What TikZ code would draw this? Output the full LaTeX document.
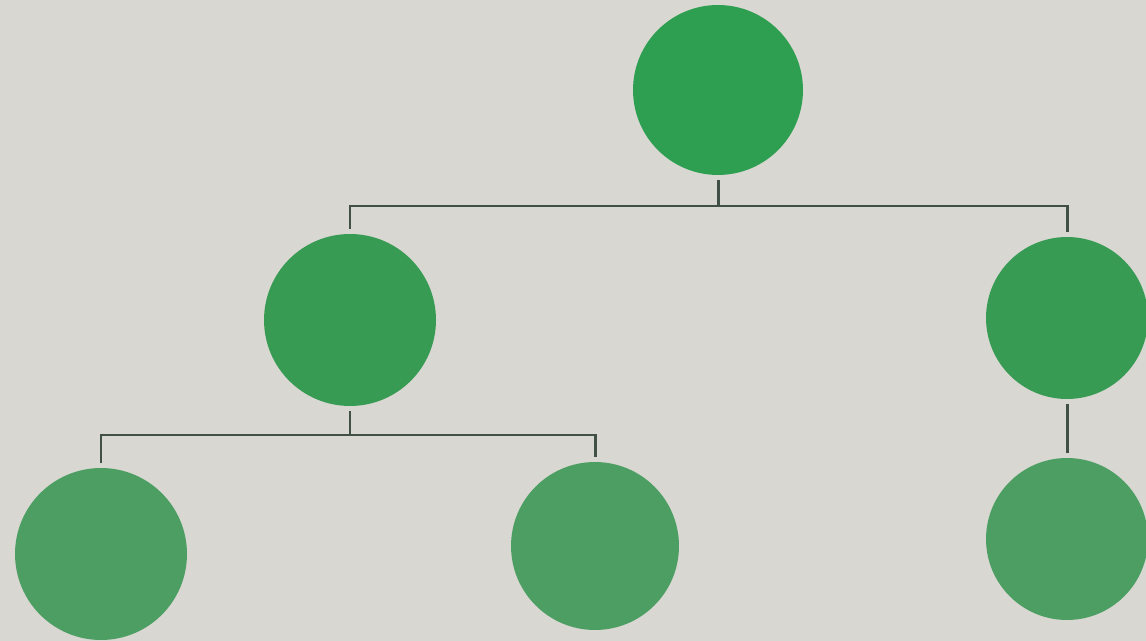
\documentclass[tikz,border=0pt]{standalone}
\usepackage{tikz}
\usetikzlibrary{positioning}

\definecolor{paper}{RGB}{216,215,210}
\definecolor{leafA}{RGB}{46,158,80}
\definecolor{leafB}{RGB}{56,155,84}
\definecolor{leafC}{RGB}{76,158,98}
\definecolor{wire}{RGB}{64,80,70}

\begin{document}
\begin{tikzpicture}[x=0.02cm, y=-0.02cm,
	blob/.style={circle, inner sep=0pt, outer sep=2.8pt},
	link/.style={wire, line width=1.7pt}]
	\fill[paper] (0,0) rectangle (1146,641);
	\useasboundingbox (0,0) rectangle (1146,641);
	% nodes, centres and sizes
	\node[blob, fill=leafA, minimum size=3.4cm] (root) at (718,90) {};
	\node[blob, fill=leafB, minimum size=3.44cm] (midL) at (350,320) {};
	\node[blob, fill=leafB, minimum size=3.24cm] (midR) at (1067,318) {};
	\node[blob, fill=leafC, minimum size=3.44cm] (lowL) at (101,554) {};
	\node[blob, fill=leafC, minimum size=3.36cm] (lowM) at (595,546) {};
	\node[blob, fill=leafC, minimum size=3.24cm] (lowR) at (1067,539) {};
	\coordinate (barTop) at (718,206);
	\coordinate (barMid) at (350,435);
	\draw[link] (root.south) -- (barTop);
	\draw[link] (midL.north) |- (barTop) -| (midR.north);
	\draw[link] (midL.south) -- (barMid);
	\draw[link] (lowL.north) |- (barMid) -| (lowM.north);
	\draw[link] (midR.south) -- (lowR.north);
\end{tikzpicture}
\end{document}
